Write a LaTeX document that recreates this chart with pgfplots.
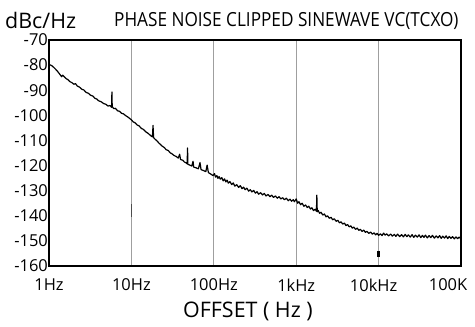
\documentclass[border=0pt]{standalone}
\usepackage{fontspec}
\setmainfont{Open Sans}
\newfontfamily\titlefont[FakeStretch=0.885]{Open Sans}
\usepackage{pgfplots}
\pgfplotsset{compat=1.18}
\begin{document}
\begin{tikzpicture}[x=1bp,y=1bp]
\path[use as bounding box] (0,0) rectangle (475,326);
\begin{axis}[
  at={(49bp,60bp)}, anchor=south west,
  scale only axis, width=412bp, height=226bp,
  xmode=log, xmin=1, xmax=100000, ymin=-160, ymax=-70,
  xtick={1,10,100,1000,10000,100000},
  xticklabels={1Hz,10Hz,100Hz,1kHz,10kHz\hspace*{10bp},100K\hspace*{26bp}},
  ytick={-160,-150,-140,-130,-120,-110,-100,-90,-80,-70},
  minor xtick={}, minor tick num=0,
  major tick length=0pt, minor tick length=0pt,
  xmajorgrids, ymajorgrids=false,
  major grid style={draw=gray!75, line width=1.1bp},
  axis line style={line width=1.3bp, black},
  /pgf/number format/assume math mode=true,
  tick label style={font=\fontsize{16.5}{18}\selectfont, text=black},
  yticklabel style={anchor=east, inner sep=1bp},
  xticklabel style={anchor=north, yshift=-9bp},
  clip=true,
]
\addplot[black, line width=1.2bp, line join=round] coordinates {
(1,-79.8) (1.05,-80.0) (1.1,-80.4) (1.15,-81.0) (1.2,-81.6) (1.27,-82.5) (1.35,-83.6) (1.42,-84.6) (1.47,-84.0) (1.52,-84.5)
(1.6,-85.3) (1.7,-85.8) (1.8,-86.6) (1.9,-87.0) (2.0,-87.6) (2.1,-87.4) (2.2,-88.3) (2.35,-88.8) (2.5,-89.6) (2.65,-89.9)
(2.8,-90.8) (3.0,-91.2) (3.2,-92.0) (3.4,-92.3) (3.6,-93.2) (3.8,-93.5) (4.0,-94.2) (4.3,-94.6) (4.6,-95.3) (4.9,-95.6)
(5.2,-96.3) (5.5,-96.1) (5.75,-96.8) (5.8,-90.7) (5.85,-96.5) (6.1,-97.3) (6.4,-97.2) (6.8,-98.2) (7.2,-98.4) (7.6,-99.2)
(8.0,-99.4) (8.5,-100.1) (9.0,-100.6) (9.5,-101.2) (10,-101.8) (10.5,-102.6) (11,-102.9) (11.7,-103.8) (12.4,-104.2) (13.2,-105.2)
(14,-105.6) (15,-106.6) (16,-107.2) (17,-108.0) (18,-108.6) (18.3,-104.0) (18.6,-108.9) (19.5,-109.6) (20.5,-110.2) (21.5,-111.0)
(22.5,-111.6) (23.5,-112.2) (25,-112.8) (26.5,-113.7) (28,-114.0) (29.5,-114.9) (31,-115.3) (33,-116.0) (35,-116.4) (37,-117.0)
(38.5,-115.5) (39.5,-117.6) (42,-117.9) (44,-118.6) (46,-118.9) (47.5,-119.3) (48,-113.0) (48.5,-119.5) (51,-119.8) (54,-120.2)
(56,-118.3) (57,-120.6) (61,-120.9) (65,-121.3) (68,-118.8) (70,-121.6) (75,-122.0) (80,-122.4) (83,-119.8) (86,-122.8)
(92,-123.4) (98,-124.0) (102,-123.2) (105,-124.6) (109,-124.0) (112,-125.1) (116,-124.4) (120,-125.4) (125,-124.8) (130,-126.1)
(135,-125.3) (140,-126.5) (145,-125.8) (150,-127.0) (157,-126.4) (165,-127.6) (172,-126.9) (180,-128.2) (190,-127.6) (200,-128.7)
(210,-128.0) (220,-129.2) (230,-128.6) (240,-129.6) (252,-129.0) (265,-130.2) (277,-129.6) (290,-130.5) (305,-129.9) (320,-131.0)
(335,-130.4) (350,-131.4) (370,-130.8) (390,-131.7) (410,-131.1) (430,-132.1) (455,-131.5) (480,-132.4) (505,-131.8) (530,-132.7)
(560,-132.1) (590,-133.0) (620,-132.4) (650,-133.3) (685,-132.8) (720,-133.6) (760,-133.0) (800,-134.0) (840,-133.4) (880,-134.2)
(920,-133.6) (950,-134.4) (1000,-133.3) (1040,-135.0) (1080,-134.4) (1130,-135.6) (1180,-135.0) (1240,-136.2) (1300,-135.7) (1360,-136.7)
(1420,-136.2) (1490,-137.3) (1550,-136.8) (1620,-137.9) (1700,-137.4) (1760,-138.2) (1780,-131.8) (1800,-138.4) (1850,-137.9) (1920,-139.0)
(2000,-138.6) (2100,-139.7) (2200,-139.3) (2300,-140.4) (2400,-140.0) (2520,-141.0) (2650,-140.6) (2770,-141.6) (2900,-141.2) (3050,-142.2)
(3200,-141.8) (3350,-142.8) (3500,-142.4) (3670,-143.3) (3850,-142.9) (4020,-143.9) (4200,-143.5) (4400,-144.4) (4600,-144.0) (4800,-144.9)
(5000,-144.5) (5250,-145.4) (5500,-144.9) (5750,-145.8) (6000,-145.4) (6300,-146.2) (6600,-145.7) (6900,-146.6) (7200,-146.2) (7600,-147.0)
(8000,-146.5) (8400,-147.3) (8800,-146.8) (9200,-147.6) (9600,-147.0) (10000,-147.8) (10500,-147.2) (11000,-147.9) (11500,-146.9) (12000,-147.7)
(12500,-147.2) (13200,-148.0) (14000,-147.3) (14700,-148.1) (15500,-147.4) (16200,-148.2) (17000,-147.3) (18000,-148.3) (19000,-147.5) (20000,-148.4)
(21000,-147.4) (22000,-148.3) (23000,-147.6) (24200,-148.5) (25500,-147.5) (26700,-148.6) (28000,-147.7) (29500,-148.5) (31000,-147.6) (32500,-148.7)
(34000,-147.8) (35500,-148.6) (37000,-147.7) (39000,-148.8) (41000,-147.9) (43000,-148.7) (45000,-147.8) (47500,-148.9) (50000,-148.0) (52500,-148.8)
(55000,-147.9) (57500,-149.0) (60000,-148.1) (63000,-148.9) (66000,-148.0) (69000,-149.1) (72000,-148.2) (75500,-149.0) (79000,-148.3) (83000,-149.2)
(87000,-148.4) (91000,-149.1) (95000,-148.5) (100000,-149.2)
};
\addplot[black!70, line width=1.5bp] coordinates {(10,-135.5) (10,-140.5)};
\addplot[black, line width=2.5bp] coordinates {(10000,-154) (10000,-156.5)};
\addplot[black, line width=1.5bp] coordinates {(98000,-157.5) (98000,-160)};
\end{axis}
\node[anchor=base west, inner sep=0, font=\fontsize{21.5}{24}\selectfont] at (5,298) {dBc/Hz};
\node[anchor=base west, inner sep=0, font=\titlefont\fontsize{19.5}{22}\selectfont] at (114,300) {PHASE NOISE CLIPPED SINEWAVE VC(TCXO)};
\node[anchor=base west, inner sep=0, font=\fontsize{21.5}{24}\selectfont] at (183,9) {OFFSET ( Hz )};
\end{tikzpicture}
\end{document}
